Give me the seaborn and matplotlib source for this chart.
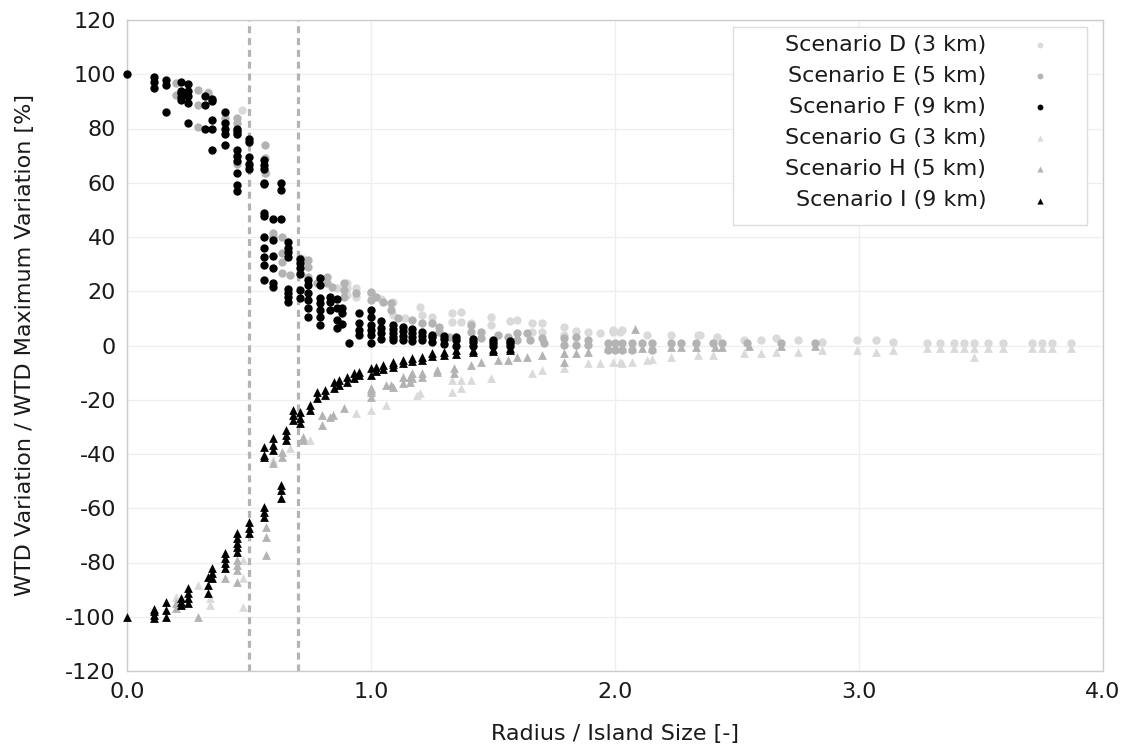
import matplotlib
matplotlib.use("Agg")
import matplotlib.pyplot as plt
import seaborn as sns
import pandas as pd
from matplotlib.patches import Rectangle
from matplotlib.ticker import FormatStrFormatter

# ---------------- data ----------------
labels = ["Scenario D (3 km)", "Scenario E (5 km)", "Scenario F (9 km)",
          "Scenario G (3 km)", "Scenario H (5 km)", "Scenario I (9 km)"]

D_x = [0.33, 0.47, 0.57,
       0.72, 0.73, 0.86, 0.90, 0.90, 0.90, 0.94, 0.94,
       1.00, 1.04, 1.09, 1.09, 1.14, 1.20, 1.21, 1.25,
       1.33, 1.33, 1.37, 1.37, 1.41, 1.49, 1.49,
       1.57, 1.60, 1.66, 1.66, 1.70, 1.70, 1.79, 1.79, 1.84, 1.89, 1.94, 1.99, 2.02,
       1.99, 2.03, 2.13, 2.23, 2.34, 2.35, 2.42,
       2.53, 2.60, 2.66, 2.75, 2.85,
       2.99, 3.07, 3.14, 3.28, 3.33, 3.39, 3.43, 3.47, 3.53, 3.59, 3.71, 3.75, 3.79, 3.87]
D_y = [93.5, 86.8, 63.6,
       32, 30.4, 21.2, 23, 21.2, 18.6, 21.2, 17.9,
       19, 17, 16, 11.2, 10, 14.2, 11.2, 10.5,
       12, 8.7, 12.4, 8.7, 8.3, 10.5, 7.5,
       9, 9.5, 8.3, 5, 8.3, 5, 6.8, 4, 5.5, 5, 4.6, 5, 5,
       5.7, 5.7, 3.9, 3.9, 3.9, 3.9, 3.1,
       2, 2, 2.8, 2, 1.3,
       2, 2, 1.3, 1, 1, 1, 1, 1, 1, 1, 1, 1, 1, 1]

E_x = [0.20, 0.20,
       0.29, 0.29, 0.29,
       0.33,
       0.40, 0.40,
       0.45, 0.45, 0.45, 0.45, 0.45,
       0.50,
       0.565, 0.565, 0.565,
       0.60, 0.60,
       0.635, 0.635, 0.635, 0.635,
       0.67,
       0.71, 0.71,
       0.74, 0.74, 0.74,
       0.78,
       0.82, 0.82,
       0.84,
       0.89, 0.89, 0.89,
       0.94,
       1.00, 1.00,
       1.02,
       1.05,
       1.08, 1.08,
       1.11,
       1.17, 1.21, 1.25, 1.28, 1.28, 1.32,
       1.41, 1.41, 1.45, 1.45,
       1.52, 1.56,
       1.60, 1.60, 1.64, 1.65,
       1.70, 1.71,
       1.79, 1.79,
       1.84, 1.84,
       1.89, 1.89,
       1.97, 1.97, 2.00, 2.00, 2.03, 2.03, 2.07, 2.07, 2.11, 2.15, 2.15,
       2.23, 2.27, 2.33, 2.40, 2.44,
       2.54, 2.68, 2.82]
E_y = [96.7, 92.3,
       94.2, 88.6, 80.5,
       93,
       84, 82.4,
       84, 82, 78, 70, 67,
       66,
       74, 69, 63.6,
       41.5, 40,
       40, 34, 30.8, 26.7,
       26,
       32.3, 26.7,
       31.5, 29, 25.2,
       23,
       25.2, 23,
       21.6,
       23, 20.5, 17.9,
       19.4,
       19.7, 16.8,
       17.9,
       16,
       15.7, 13,
       10,
       9.4, 8.3, 8.3, 6.8, 5, 3.1,
       7.5, 5, 5, 2.8,
       3.9, 3.1,
       4.6, 2, 4.6, 2,
       2.8, 0.9,
       2.8, 0.2,
       3.1, 0.2,
       2, 0.2,
       1, -1.7, 1, -1.7, 1, -1.7, 1, -1.7, 1, 1, -1.7,
       1, 1, 1, 1, 1,
       1, 1, 1]

F_x = [0.00,
       0.11, 0.11, 0.11,
       0.16, 0.16, 0.16,
       0.22, 0.22, 0.22, 0.22, 0.22,
       0.25, 0.25, 0.25, 0.25, 0.25,
       0.32, 0.32, 0.32,
       0.35, 0.35, 0.35, 0.35, 0.35,
       0.40, 0.40, 0.40, 0.40, 0.40,
       0.45, 0.45, 0.45, 0.45, 0.45, 0.45, 0.45, 0.45, 0.45,
       0.50, 0.50, 0.50, 0.50, 0.50,
       0.56, 0.56, 0.56, 0.56, 0.56, 0.56, 0.56, 0.56, 0.56, 0.56, 0.56, 0.56,
       0.60, 0.60, 0.60, 0.60, 0.60, 0.60,
       0.63, 0.63, 0.63,
       0.66, 0.66, 0.66, 0.66, 0.66, 0.66, 0.66, 0.66,
       0.71, 0.71, 0.71, 0.71, 0.71, 0.71,
       0.74, 0.74, 0.74, 0.74, 0.74, 0.74,
       0.79, 0.79, 0.79, 0.79, 0.79, 0.79, 0.79,
       0.83, 0.83, 0.83,
       0.86, 0.86, 0.86, 0.86,
       0.88, 0.88, 0.88,
       0.91,
       0.95, 0.95, 0.95, 0.95,
       1.00, 1.00, 1.00, 1.00, 1.00, 1.00,
       1.04, 1.04, 1.04, 1.04,
       1.09, 1.09, 1.09, 1.09, 1.09,
       1.13, 1.13, 1.13, 1.13,
       1.17, 1.17, 1.17, 1.17,
       1.21, 1.21, 1.21,
       1.25, 1.25, 1.25,
       1.30, 1.30, 1.30,
       1.35, 1.35, 1.35,
       1.42, 1.42, 1.42,
       1.50, 1.50, 1.50,
       1.57, 1.57, 1.57]
F_y = [100,
       99, 97, 95,
       98, 96, 86,
       97, 94, 93, 91.5, 90.5,
       96.5, 94, 92, 89.5, 82,
       92, 88.5, 80,
       91, 90, 83, 80, 72,
       86, 82, 80, 78, 74,
       80, 79, 78, 72, 70, 68, 63.5, 59, 57,
       76, 75, 69.5, 67, 65,
       68.5, 66.5, 65, 60, 59.5, 48.8, 47.7, 40, 36, 32.5, 29.5, 24,
       46.5, 39, 33, 28.5, 23, 21.5,
       59.8, 57.3, 46.6,
       38, 36, 34.5, 32.5, 21, 19.5, 18, 16,
       32, 30.5, 28.5, 26.5, 20.5, 17.5,
       24, 22.3, 19.4, 16.8, 13.8, 10.5,
       25, 22.3, 17.5, 15.7, 13, 10.5, 7.6,
       18, 16, 13,
       17, 14, 9.5, 6.5,
       14, 12, 8,
       1,
       12, 8.3, 5.7, 4,
       13, 10.5, 7.6, 5.7, 4, 1,
       9, 6.5, 4.5, 2.5,
       7.5, 6, 4.5, 3, 2,
       7, 5.5, 3.5, 2,
       6, 4.5, 3, 1.5,
       5, 3.5, 2,
       4, 3, 1.3,
       3.5, 2.5, 0.5,
       3, 2, 0,
       2.5, 1.3, 0,
       2, 1, 0,
       1.8, 0.8, 0]

G_x = [0.20, 0.29, 0.34, 0.34, 0.475, 0.475, 0.475,
       0.60, 0.67, 0.75, 0.94, 1.00, 1.06, 1.19, 1.20,
       1.33, 1.33, 1.37, 1.37, 1.41, 1.49,
       1.66, 1.70, 1.79, 1.89, 1.94, 1.99, 2.02,
       2.03, 2.07, 2.13, 2.15, 2.23, 2.34, 2.40, 2.53, 2.60, 2.66, 2.75, 2.85,
       2.99, 3.07, 3.14, 3.28, 3.33, 3.39, 3.43, 3.47, 3.47, 3.53, 3.59, 3.71, 3.75, 3.79, 3.87]
G_y = [-92.7, -88.3, -93.1, -95.7, -79, -85.7, -96.4,
       -42.2, -37.8, -34.8, -24.9, -23.8, -21.9, -18.2, -17.5,
       -12.7, -17.1, -12.7, -15.7, -12.7, -12,
       -10.1, -9, -8.3, -6.5, -6.5, -6.1, -6.1,
       -6.5, -6, -5.3, -5, -4.2, -3.5, -3.5, -2.8, -2.8, -2.4, -2.4, -1.7,
       -1.7, -2.4, -1.7, -1, -1, -1, -1, -1, -4.3, -1, -1, -1, -1, -1, -1]

H_x = [0.20, 0.20, 0.29, 0.40, 0.45, 0.45, 0.45, 0.45,
       0.57, 0.57, 0.57, 0.60, 0.635, 0.635, 0.72, 0.72, 0.80, 0.80, 0.83, 0.845, 0.89,
       1.00, 1.00, 1.00, 1.00, 1.06, 1.08, 1.09, 1.13, 1.13, 1.16, 1.16,
       1.17, 1.17, 1.21, 1.21, 1.27, 1.27, 1.34, 1.34, 1.41, 1.45, 1.52, 1.56,
       1.60, 1.64, 1.70, 1.79, 1.79, 1.84, 1.89,
       1.97, 2.00, 2.03, 2.07, 2.08, 2.11, 2.15, 2.23, 2.27, 2.33, 2.41, 2.44, 2.55, 2.68, 2.82]
H_y = [-95, -96.8, -100, -85.7, -79, -81, -82.8, -87.2,
       -66.9, -70.6, -77.2, -43.3, -39.3, -41.1, -34.8, -33.7, -29.3, -25.6, -26.4, -25.6, -23,
       -17.1, -19, -16.4, -15.7, -14.6, -14.6, -15.3, -11.6, -13.8, -11.6, -13.5,
       -10.1, -12, -10, -11.6, -9, -9.8, -8.3, -10.1, -7.2, -6.1, -5.3, -5.3,
       -4.2, -4.2, -3.5, -2.8, -6, -2.8, -2.4,
       -1, -1, -1, -1, 6.1, -1, -1, -0.5, -0.5, -0.5, -0.5, -0.5, -0.2, -0.2, -0.2]

I_x = [0.00,
       0.11, 0.11, 0.11, 0.11,
       0.16, 0.16, 0.16,
       0.22, 0.22, 0.22,
       0.25, 0.25, 0.25, 0.25,
       0.33, 0.33, 0.33,
       0.35, 0.35, 0.35,
       0.40, 0.40, 0.40, 0.40,
       0.45, 0.45, 0.45, 0.45, 0.45,
       0.50, 0.50, 0.50,
       0.56, 0.56, 0.56, 0.56, 0.56, 0.56,
       0.60, 0.60, 0.60,
       0.63, 0.63, 0.63,
       0.65, 0.65, 0.65,
       0.68, 0.68, 0.68,
       0.71, 0.71, 0.71,
       0.75, 0.75,
       0.78, 0.78,
       0.81, 0.81,
       0.85, 0.85,
       0.87, 0.87,
       0.90, 0.90,
       0.93, 0.93,
       0.95, 0.95,
       1.00, 1.00,
       1.02, 1.02,
       1.05, 1.05,
       1.09, 1.09, 1.09,
       1.13, 1.13,
       1.17, 1.17,
       1.21, 1.21,
       1.25, 1.25,
       1.30, 1.30,
       1.35, 1.35,
       1.42, 1.42,
       1.50, 1.50,
       1.57, 1.57]
I_y = [-100,
       -97, -98, -99.5, -100.5,
       -94.6, -97.5, -100,
       -93, -94.6, -95.7,
       -89.4, -91.2, -93, -94.9,
       -85.4, -88.3, -91.2,
       -82, -83.9, -85.7,
       -76.5, -78.3, -80.2, -82,
       -69, -71, -72.8, -74.3, -76,
       -65, -67.3, -69.1,
       -59.5, -61.4, -63.2, -37.4, -40.4, -41.1,
       -34.1, -36.7, -38.5,
       -51.4, -53.3, -56.2,
       -31.1, -33, -34.8,
       -23.8, -25.6, -27.5,
       -24.5, -26.7, -28.6,
       -21.9, -23.8,
       -17.1, -19.4,
       -16.4, -18.2,
       -13.5, -15.7,
       -12.7, -14.6,
       -11.6, -13.5,
       -10.1, -12,
       -9.8, -11,
       -8.3, -10.9,
       -7.9, -9.5,
       -7.2, -8.5,
       -6.1, -7, -8,
       -5.3, -6.5,
       -4.6, -5.8,
       -4.2, -5.3,
       -2.8, -4,
       -2.4, -3.5,
       -1.7, -3,
       -1.7, -2.5,
       -1.3, -2,
       -0.9, -1.5]

threshold_lines = [0.5, 0.7]
x_ticks = [0.0, 1.0, 2.0, 3.0, 4.0]
y_ticks = [-120, -100, -80, -60, -40, -20, 0, 20, 40, 60, 80, 100, 120]

# ---------------- styling ----------------
series = [(D_x, D_y, "o", "#dadada"), (E_x, E_y, "o", "#b3b3b3"), (F_x, F_y, "o", "#000000"),
          (G_x, G_y, "^", "#dadada"), (H_x, H_y, "^", "#b3b3b3"), (I_x, I_y, "^", "#000000")]

sns.set_theme(style="white")
plt.rcParams["font.family"] = ["DejaVu Sans"]
plt.rcParams["axes.unicode_minus"] = False

fig = plt.figure(figsize=(11.24, 7.49), dpi=100)
ax = fig.add_axes([127 / 1124, 1 - 671 / 749, 976 / 1124, 651 / 749])

frames = []
for (xs, ys, m, c), lab in zip(series, labels):
    assert len(xs) == len(ys), lab
    frames.append(pd.DataFrame({"x": xs, "y": ys, "series": lab}))
df = pd.concat(frames, ignore_index=True)

for (xs, ys, m, c), lab in zip(series, labels):
    sub = df[df["series"] == lab]
    sns.scatterplot(data=sub, x="x", y="y", ax=ax, marker=m, color=c,
                    s=36 if m == "o" else 40, linewidth=0, label=lab,
                    clip_on=False, zorder=3)

for xv in threshold_lines:
    ax.axvline(xv, color="#b4b4b4", lw=2.3, ls=(0, (2.2, 1.5)), zorder=2)

ax.set_xlim(0, 4)
ax.set_ylim(-120, 120)
ax.set_xticks(x_ticks)
ax.set_yticks(y_ticks)
ax.xaxis.set_major_formatter(FormatStrFormatter("%.1f"))
ax.grid(True, color="#eeeeee", lw=0.9, zorder=0)
ax.set_axisbelow(True)
for sp in ax.spines.values():
    sp.set_color("#cccccc")
    sp.set_linewidth(1.0)
ax.tick_params(length=0, labelsize=16, pad=8, colors="#1a1a1a")
ax.set_xlabel("Radius / Island Size [-]", fontsize=16, labelpad=16, color="#1a1a1a")
ax.set_ylabel("WTD Variation / WTD Maximum Variation [%]", fontsize=16, labelpad=22,
              color="#1a1a1a")

# legend frame drawn as a box, legend entries right-aligned with markers on the right
ax.add_patch(Rectangle((0.621, 0.685), 0.3626, 0.304, transform=ax.transAxes,
                       facecolor="white", edgecolor="#dddddd", lw=1.0, zorder=4,
                       clip_on=False))
leg = ax.legend(loc="upper right", bbox_to_anchor=(0.967, 1.008), frameon=False,
                markerfirst=False, fontsize=16, markerscale=0.7,
                handlelength=1.0, handletextpad=1.9, labelspacing=0.5,
                borderpad=0.4)
leg.set_zorder(5)
for t in leg.get_texts():
    t.set_color("#1a1a1a")

fig.savefig("out.png", dpi=100)
